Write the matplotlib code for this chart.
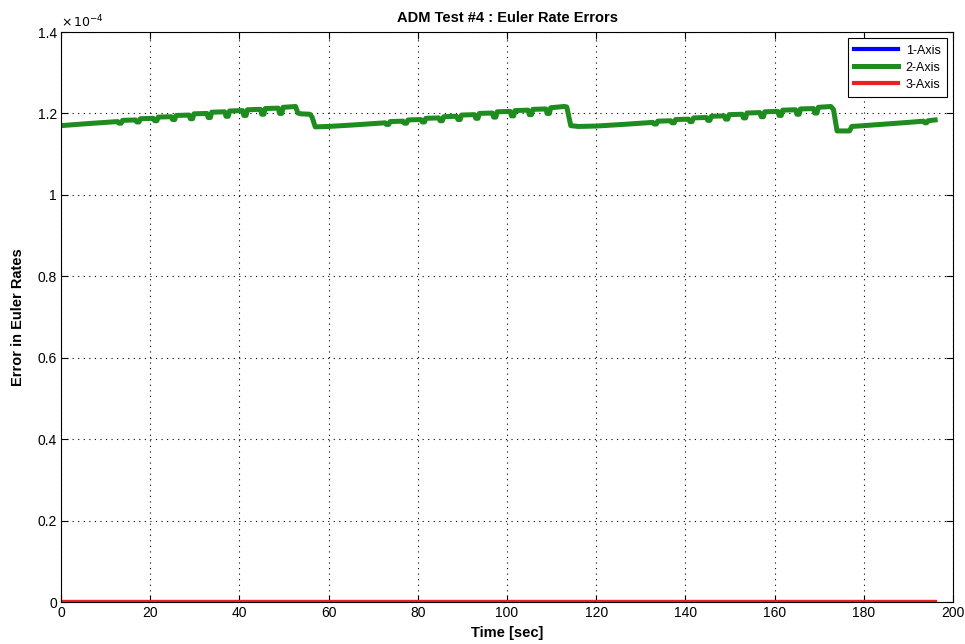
import matplotlib
matplotlib.use("Agg")
import matplotlib.pyplot as plt
from matplotlib.ticker import FuncFormatter, MultipleLocator

plt.rcParams['font.family'] = ['Liberation Sans', 'DejaVu Sans']

SCALE = 1e-4
title = "ADM Test #4 : Euler Rate Errors"
xlabel = "Time [sec]"
ylabel = "Error in Euler Rates"
labels = ["1-Axis", "2-Axis", "3-Axis"]

# Axis 2 error: time [s] and value (in units of 1e-4)
t2 = [0, 6, 12.7, 13.0, 13.5, 13.8,
      16.7, 17.0, 17.5, 17.8,
      20.7, 21.0, 21.5, 21.8,
      24.7, 25.0, 25.5, 25.8,
      28.7, 29.0, 29.5, 29.8,
      32.7, 33.0, 33.5, 33.8,
      36.7, 37.0, 37.5, 37.8,
      40.7, 41.0, 41.5, 41.8,
      44.7, 45.0, 45.5, 45.8,
      48.7, 49.0, 49.5, 49.8,
      52.6, 53.1, 53.8, 55.8, 56.3, 57.0,
      60, 66, 72.7, 73.0, 73.5, 73.8,
      76.7, 77.0, 77.5, 77.8,
      80.7, 81.0, 81.5, 81.8,
      84.7, 85.0, 85.5, 85.8,
      88.7, 89.0, 89.5, 89.8,
      92.7, 93.0, 93.5, 93.8,
      96.7, 97.0, 97.5, 97.8,
      100.7, 101.0, 101.5, 101.8,
      104.7, 105.0, 105.5, 105.8,
      108.7, 109.0, 109.5, 109.8,
      112.8, 113.4, 114.3, 116,
      120, 126, 132.7, 133.0, 133.5, 133.8,
      136.7, 137.0, 137.5, 137.8,
      140.7, 141.0, 141.5, 141.8,
      144.7, 145.0, 145.5, 145.8,
      148.7, 149.0, 149.5, 149.8,
      152.7, 153.0, 153.5, 153.8,
      156.7, 157.0, 157.5, 157.8,
      160.7, 161.0, 161.5, 161.8,
      164.7, 165.0, 165.5, 165.8,
      168.7, 169.0, 169.5, 169.8,
      172.6, 173.2, 174.0, 176.8, 177.3,
      180, 185, 190, 193.4, 193.7, 194.1, 194.4, 196]
v2 = [1.170, 1.175, 1.180, 1.176, 1.176, 1.183,
      1.184, 1.179, 1.179, 1.187,
      1.188, 1.182, 1.182, 1.191,
      1.192, 1.185, 1.185, 1.195,
      1.196, 1.187, 1.187, 1.199,
      1.200, 1.190, 1.190, 1.203,
      1.204, 1.193, 1.193, 1.206,
      1.207, 1.195, 1.195, 1.209,
      1.210, 1.198, 1.198, 1.212,
      1.213, 1.200, 1.200, 1.215,
      1.217, 1.201, 1.199, 1.198, 1.191, 1.167,
      1.168, 1.172, 1.177, 1.173, 1.173, 1.180,
      1.181, 1.176, 1.176, 1.184,
      1.185, 1.179, 1.179, 1.188,
      1.189, 1.182, 1.182, 1.192,
      1.193, 1.185, 1.185, 1.196,
      1.197, 1.188, 1.188, 1.200,
      1.201, 1.191, 1.191, 1.204,
      1.205, 1.194, 1.194, 1.207,
      1.208, 1.197, 1.197, 1.210,
      1.211, 1.200, 1.200, 1.214,
      1.217, 1.216, 1.170, 1.168,
      1.169, 1.173, 1.178, 1.174, 1.174, 1.181,
      1.182, 1.177, 1.177, 1.185,
      1.186, 1.180, 1.180, 1.189,
      1.190, 1.183, 1.183, 1.193,
      1.194, 1.186, 1.186, 1.197,
      1.198, 1.189, 1.189, 1.201,
      1.202, 1.192, 1.192, 1.204,
      1.205, 1.195, 1.195, 1.208,
      1.209, 1.198, 1.198, 1.211,
      1.212, 1.201, 1.201, 1.215,
      1.217, 1.210, 1.157, 1.157, 1.168,
      1.170, 1.174, 1.178, 1.181, 1.177, 1.177, 1.182, 1.184]

# Axis 1 and 3 errors (essentially zero)
t1 = [0, 196]
v1 = [0.0, 0.0]
t3 = [0, 196]
v3 = [0.0, 0.0]

fig = plt.figure(figsize=(9.65, 6.44), dpi=100)
ax = fig.add_axes([61/965, 42/644, 892/965, 570/644])

ax.plot(t1, [v * SCALE for v in v1], color='#0000ff', lw=3, label=labels[0])
ax.plot(t2, [v * SCALE for v in v2], color='#1e8c1e', lw=3.6, label=labels[1])
ax.plot(t3, [v * SCALE for v in v3], color='#e8231e', lw=3, label=labels[2])

ax.set_xlim(0, 200)
ax.set_ylim(0, 1.4e-4)
ax.xaxis.set_major_locator(MultipleLocator(20))
ax.yaxis.set_major_locator(MultipleLocator(0.2e-4))
ax.yaxis.set_major_formatter(FuncFormatter(lambda y, p: f"{y / SCALE:g}"))
ax.tick_params(direction='in', top=True, right=True, length=5, width=0.8,
               labelsize=10, pad=3)
ax.grid(True, color='black', linestyle=(0, (1, 4)), linewidth=0.8)
for s in ax.spines.values():
    s.set_linewidth(0.8)

ax.text(0.0, 1.003, r"$\times\,10^{-4}$", transform=ax.transAxes, fontsize=9,
        ha='left', va='bottom')

ax.set_title(title, fontsize=10.5, fontweight='bold', pad=7)
ax.set_xlabel(xlabel, fontsize=10.5, fontweight='bold', labelpad=4)
ax.set_ylabel(ylabel, fontsize=10.5, fontweight='bold', labelpad=9)

leg = ax.legend(loc='upper right', fontsize=9, fancybox=False, edgecolor='black',
                framealpha=1, borderpad=0.5, handlelength=3.5, handletextpad=0.6,
                labelspacing=0.4, borderaxespad=0.5)
leg.get_frame().set_linewidth(0.8)

fig.savefig("out.png", dpi=100)
